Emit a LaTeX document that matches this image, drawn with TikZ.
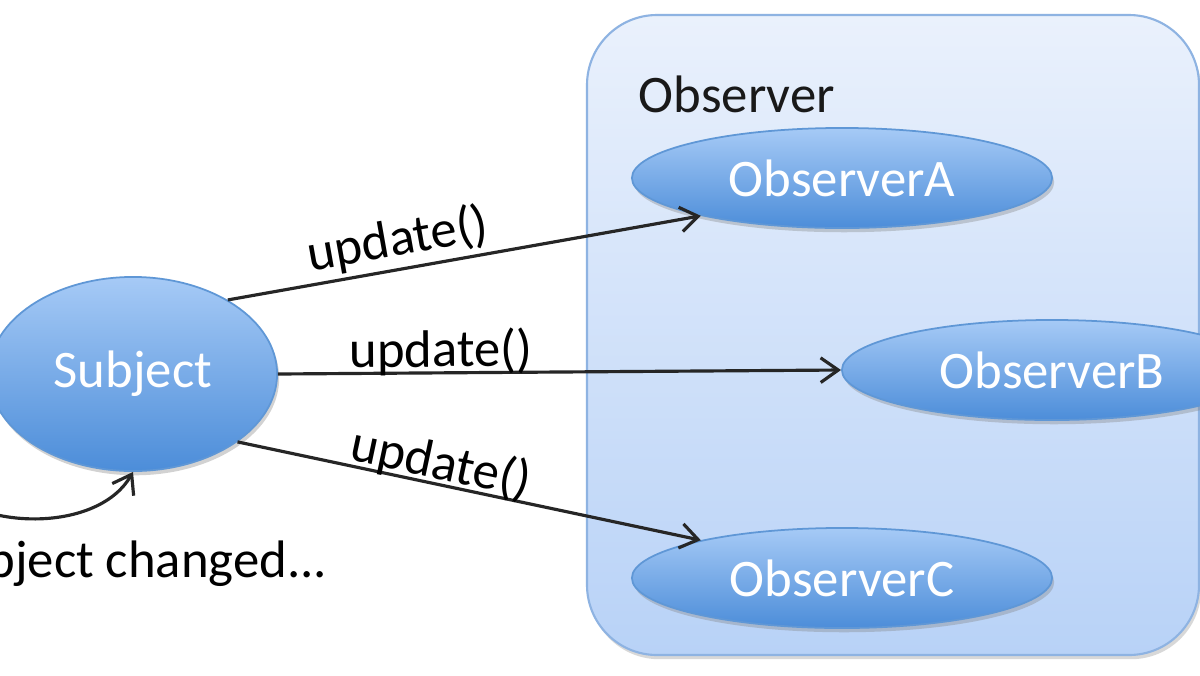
\documentclass[tikz,border=0pt]{standalone}
\usepackage{fontspec}
\setmainfont{Carlito}
\usepackage{tikz}
\usetikzlibrary{shapes.geometric}
\usetikzlibrary{arrows.meta}
\usetikzlibrary{shadows}
\definecolor{blobtop}{HTML}{A6CAF6}
\definecolor{blobbot}{HTML}{4C8DD9}
\definecolor{blobedge}{HTML}{5F97D6}
\definecolor{boxtop}{HTML}{EAF1FC}
\definecolor{boxbot}{HTML}{B8D2F7}
\definecolor{boxedge}{HTML}{8EB3E2}
\tikzset{
  blob/.style={ellipse, inner sep=0pt, draw=blobedge, line width=0.5pt,
    top color=blobtop, bottom color=blobbot, text=white,
    drop shadow={opacity=0.35, shadow xshift=0.6pt, shadow yshift=-1.2pt},
    font=\fontsize{15}{18}\selectfont},
  msg/.style={line width=0.9pt, draw=black!85, -{Straight Barb[length=5pt,width=7pt]}},
  msglabel/.style={font=\fontsize{15}{18}\selectfont, inner sep=1pt, sloped}
}

\begin{document}
\begin{tikzpicture}[x=0.01cm, y=-0.01cm]
  \useasboundingbox (0,0) rectangle (1200,675);
  \fill[white] (0,0) rectangle (1200,675);
  \draw[boxedge, line width=0.6pt, rounded corners=0.7cm, top color=boxtop, bottom color=boxbot,
    drop shadow={opacity=0.3, shadow xshift=0.6pt, shadow yshift=-1.2pt}]
    (587,15) rectangle (1199,655);
  \node[anchor=base west, inner sep=0pt, text=black!90, font=\fontsize{15}{18}\selectfont] (title) at (638,112) {Observer};

  \node[blob, minimum width=2.88cm, minimum height=1.94cm] (subject) at (133,374) {Subject};
  \node[blob, minimum width=4.2cm, minimum height=1.0cm] (obsA) at (842,178) {ObserverA};
  \node[blob, minimum width=4.2cm, minimum height=1.0cm] (obsB) at (1052,370) {ObserverB};
  \node[blob, minimum width=4.2cm, minimum height=1.0cm] (obsC) at (842,578) {ObserverC};

  \draw[msg] (subject.38) -- node[msglabel, above, pos=0.37] {update()} (obsA.195);
  \draw[msg] (subject.east) -- node[msglabel, anchor=base, pos=0.29, yshift=1.7pt] {update()} (obsB.west);
  \draw[msg] (subject.-33) -- node[msglabel, anchor=base, pos=0.43, yshift=1.5pt] {update()} (obsC.165);

  \coordinate (loopstart) at (-60,488);
  \draw[msg] (loopstart) .. controls (-10,532) and (100,530) .. (subject.south);
  \node[anchor=base east, inner sep=0pt, font=\fontsize{15}{18}\selectfont] (changed) at (328,577) {Subject changed...};
\end{tikzpicture}
\end{document}
